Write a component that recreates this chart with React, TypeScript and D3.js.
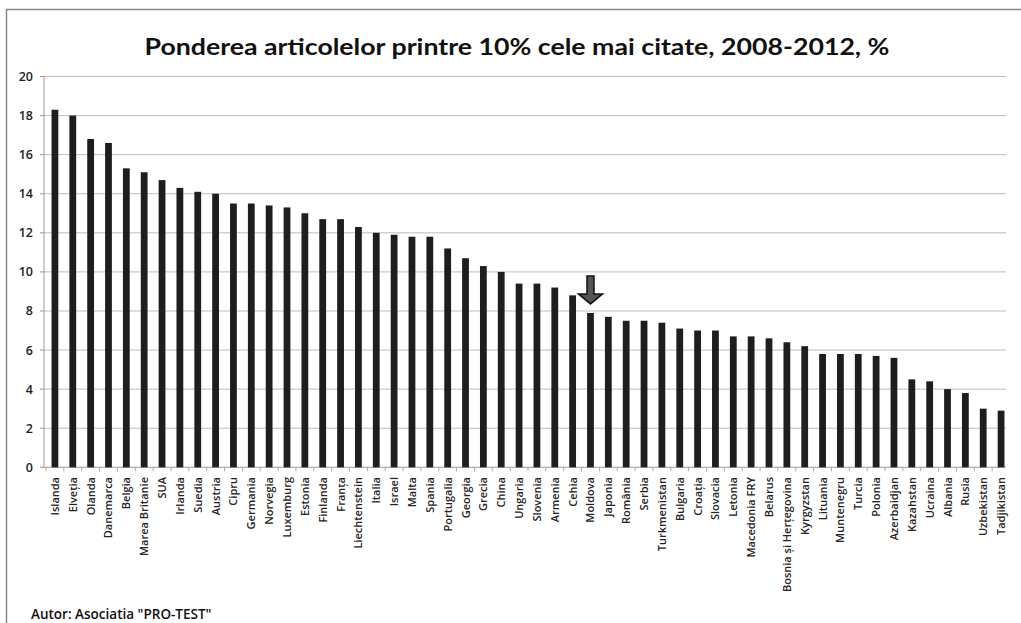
import React from "react";
import * as d3 from "d3";

const countries = [
  "Islanda", "Elveția", "Olanda", "Danemarca", "Belgia", "Marea Britanie", "SUA", "Irlanda",
  "Suedia", "Austria", "Cipru", "Germania", "Norvegia", "Luxemburg", "Estonia", "Finlanda",
  "Franța", "Liechtenstein", "Italia", "Israel", "Malta", "Spania", "Portugalia", "Georgia",
  "Grecia", "China", "Ungaria", "Slovenia", "Armenia", "Cehia", "Moldova", "Japonia",
  "România", "Serbia", "Turkmenistan", "Bulgaria", "Croația", "Slovacia", "Letonia",
  "Macedonia FRY", "Belarus", "Bosnia și Herțegovina", "Kyrgyzstan", "Lituania", "Muntenegru",
  "Turcia", "Polonia", "Azerbaidjan", "Kazahstan", "Ucraina", "Albania", "Rusia",
  "Uzbekistan", "Tadjikistan",
];

const values = [
  18.3, 18.0, 16.8, 16.6, 15.3, 15.1, 14.7, 14.3,
  14.1, 14.0, 13.5, 13.5, 13.4, 13.3, 13.0, 12.7,
  12.7, 12.3, 12.0, 11.9, 11.8, 11.8, 11.2, 10.7,
  10.3, 10.0, 9.4, 9.4, 9.2, 8.8, 7.9, 7.7,
  7.5, 7.5, 7.4, 7.1, 7.0, 7.0, 6.7,
  6.7, 6.6, 6.4, 6.2, 5.8, 5.8,
  5.8, 5.7, 5.6, 4.5, 4.4, 4.0, 3.8,
  3.0, 2.9,
];

const yTicks = [0, 2, 4, 6, 8, 10, 12, 14, 16, 18, 20];
const highlighted = "Moldova";
const title = "Ponderea articolelor printre 10% cele mai citate, 2008-2012, %";
const footer = "Autor: Asociatia \"PRO-TEST\"";

export default function App() {
  const W = 1021, H = 623;
  const x = d3.scaleBand<string>().domain(countries).range([46, 1010]).paddingInner(0.62).paddingOuter(0.31);
  const y = d3.scaleLinear().domain([0, 20]).range([467.3, 76.5]);
  const font = "'Open Sans', 'DejaVu Sans', sans-serif";
  const hx = (x(highlighted) ?? 0) + x.bandwidth() / 2;
  const hIdx = countries.indexOf(highlighted);
  const hTop = y(values[hIdx]);
  const step = x.step();

  return (
    <svg width={W} height={H} style={{ position: "absolute", left: 0, top: 0, background: "#fff" }}>
      <rect x={0} y={0} width={W} height={H} fill="#fff" />
      <rect x={6.5} y={9.5} width={W + 20} height={H + 20} fill="none" stroke="#888" strokeWidth={1.5} />
      <text x={517} y={55} textAnchor="middle" fontFamily="Lato, 'Open Sans', sans-serif" fontWeight={700}
        fontSize={23} fill="#111" textLength={745} lengthAdjust="spacingAndGlyphs">{title}</text>
      {yTicks.map((t) => (
        <g key={t}>
          {t > 0 && <line x1={44} x2={1006} y1={y(t)} y2={y(t)} stroke="#bdbdbd" strokeWidth={1} />}
          <line x1={40} x2={44} y1={y(t)} y2={y(t)} stroke="#999" />
          <text x={33} y={y(t) + 4.5} textAnchor="end" fontFamily={font} fontSize={12.5} fontWeight={600} fill="#222">{t}</text>
        </g>
      ))}
      <line x1={44} x2={44} y1={y(20)} y2={y(0)} stroke="#999" />
      <line x1={44} x2={1006} y1={y(0)} y2={y(0)} stroke="#999" />
      {countries.map((c) => (
        <line key={"t" + c} x1={(x(c) ?? 0) - (step - x.bandwidth()) / 2} x2={(x(c) ?? 0) - (step - x.bandwidth()) / 2}
          y1={y(0)} y2={y(0) + 4} stroke="#aaa" />
      ))}
      {countries.map((c, i) => (
        <rect key={c} x={x(c)} y={y(values[i])} width={x.bandwidth()} height={y(0) - y(values[i])} fill="#1e1e1e" />
      ))}
      {countries.map((c) => {
        const cx = (x(c) ?? 0) + x.bandwidth() / 2;
        return (
          <text key={"l" + c} transform={`translate(${cx + 4},${477}) rotate(-90)`} textAnchor="end"
            fontFamily={font} fontSize={11} fontWeight={600} fill="#222">{c}</text>
        );
      })}
      <path
        d={`M${hx - 3.5},${hTop - 37} L${hx + 3.5},${hTop - 37} L${hx + 3.5},${hTop - 19} L${hx + 12},${hTop - 19} L${hx},${hTop - 9} L${hx - 12},${hTop - 19} L${hx - 3.5},${hTop - 19} Z`}
        fill="#555" stroke="#111" strokeWidth={1.5} strokeLinejoin="miter"
      />
      <text x={31} y={619} fontFamily={font} fontSize={13.5} fontWeight={600} fill="#111">{footer}</text>
    </svg>
  );
}
